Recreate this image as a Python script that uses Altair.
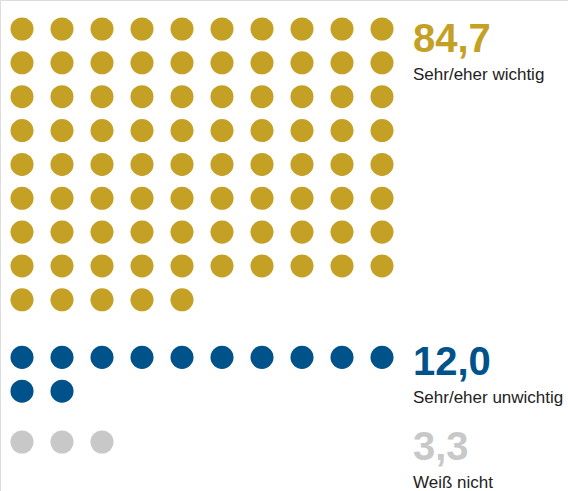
import altair as alt
import pandas as pd

# ---- data ----
groups = ["Sehr/eher wichtig", "Sehr/eher unwichtig", "Weiß nicht"]
shares = ["84,7", "12,0", "3,3"]
dot_counts = [85, 12, 3]
colors = ["#C4A024", "#00528A", "#C8C8C8"]

# ---- layout constants ----
PER_ROW = 10
GAP_AFTER = [0.7, 0.5, 0.0]  # extra row-space between groups

dots = []
starts = []
start = 0.0
for g, n, gap in zip(groups, dot_counts, GAP_AFTER):
    starts.append(start)
    for i in range(n):
        dots.append({"group": g, "col": i % PER_ROW, "row": start + i // PER_ROW})
    nrows = -(-n // PER_ROW)
    start = start + nrows + gap

dots_df = pd.DataFrame(dots)
text_df = pd.DataFrame({"group": groups, "share": shares, "row": starts,
                        "col": [PER_ROW - 1] * len(groups)})

xs = alt.Scale(domain=[0, 9], range=[22, 382])
ys = alt.Scale(domain=[0, 12.2], range=[29, 442])
cs = alt.Scale(domain=groups, range=colors)

X = alt.X("col:Q", scale=xs, axis=None)
Y = alt.Y("row:Q", scale=ys, axis=None)

points = alt.Chart(dots_df).mark_circle(size=531, opacity=1).encode(
    x=X, y=Y, color=alt.Color("group:N", scale=cs, legend=None),
)


def text_layers(flt, extra):
    base = alt.Chart(text_df).transform_filter(flt)
    num = base.mark_text(
        align="left", baseline="alphabetic", dx=31, dy=18 + extra,
        font="Liberation Sans", fontSize=40, fontWeight="bold",
    ).encode(x=X, y=Y, text="share:N",
             color=alt.Color("group:N", scale=cs, legend=None))
    lab = base.mark_text(
        align="left", baseline="alphabetic", dx=31, dy=46 + extra,
        font="Liberation Sans", fontSize=17, color="#222222",
    ).encode(x=X, y=Y, text="group:N")
    return [num, lab]


first = alt.datum.group == groups[0]
rest = alt.datum.group != groups[0]

chart = alt.layer(points, *text_layers(first, 5), *text_layers(rest, 0)).properties(
    width=568, height=491, autosize=alt.AutoSizeParams(type="none"), padding=0,
).configure_view(stroke=None).configure(background="white")

chart.save("out.html", embed_options={"renderer": "svg", "actions": False})
